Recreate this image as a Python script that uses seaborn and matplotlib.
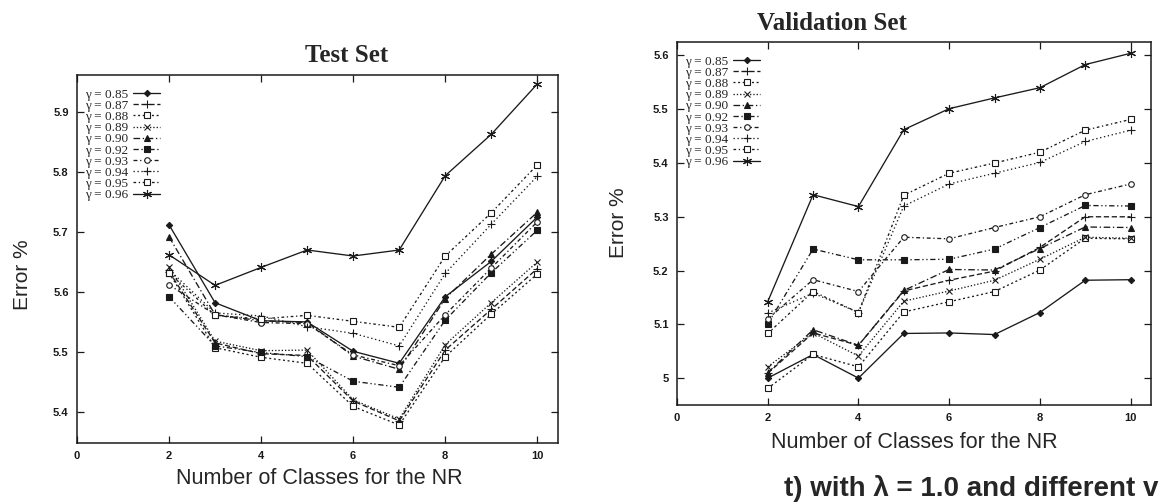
import matplotlib
matplotlib.use("Agg")
import matplotlib.pyplot as plt
from matplotlib.ticker import FuncFormatter
import pandas as pd
import seaborn as sns

# ---------------- data ----------------
classes = [2, 3, 4, 5, 6, 7, 8, 9, 10]
gammas = ["0.85", "0.87", "0.88", "0.89", "0.90", "0.92", "0.93", "0.94", "0.95", "0.96"]

test_085 = [5.712, 5.582, 5.552, 5.550, 5.501, 5.481, 5.592, 5.651, 5.725]
test_087 = [5.634, 5.515, 5.497, 5.494, 5.418, 5.385, 5.503, 5.571, 5.639]
test_088 = [5.632, 5.507, 5.491, 5.481, 5.409, 5.378, 5.492, 5.563, 5.630]
test_089 = [5.642, 5.518, 5.502, 5.503, 5.420, 5.388, 5.512, 5.582, 5.650]
test_090 = [5.692, 5.562, 5.552, 5.549, 5.493, 5.471, 5.589, 5.663, 5.733]
test_092 = [5.592, 5.510, 5.499, 5.492, 5.451, 5.441, 5.553, 5.632, 5.703]
test_093 = [5.612, 5.562, 5.549, 5.547, 5.495, 5.477, 5.562, 5.640, 5.717]
test_094 = [5.637, 5.565, 5.560, 5.542, 5.531, 5.510, 5.631, 5.713, 5.793]
test_095 = [5.632, 5.561, 5.555, 5.561, 5.551, 5.541, 5.660, 5.732, 5.812]
test_096 = [5.662, 5.611, 5.641, 5.670, 5.660, 5.670, 5.794, 5.863, 5.947]

val_085 = [5.000, 5.044, 5.000, 5.083, 5.084, 5.081, 5.122, 5.182, 5.183]
val_087 = [5.009, 5.084, 5.061, 5.162, 5.182, 5.199, 5.243, 5.300, 5.300]
val_088 = [4.981, 5.044, 5.021, 5.123, 5.142, 5.161, 5.201, 5.260, 5.259]
val_089 = [5.021, 5.084, 5.041, 5.143, 5.162, 5.182, 5.221, 5.262, 5.260]
val_090 = [5.010, 5.090, 5.061, 5.163, 5.202, 5.201, 5.241, 5.281, 5.280]
val_092 = [5.101, 5.240, 5.220, 5.220, 5.221, 5.240, 5.280, 5.321, 5.320]
val_093 = [5.110, 5.183, 5.161, 5.262, 5.259, 5.280, 5.300, 5.341, 5.361]
val_094 = [5.121, 5.158, 5.122, 5.320, 5.361, 5.381, 5.401, 5.440, 5.461]
val_095 = [5.083, 5.161, 5.122, 5.340, 5.381, 5.400, 5.420, 5.461, 5.481]
val_096 = [5.142, 5.341, 5.319, 5.462, 5.501, 5.521, 5.540, 5.583, 5.604]

x_ticks = [0, 2, 4, 6, 8, 10]
test_y_ticks = [5.4, 5.5, 5.6, 5.7, 5.8, 5.9]
val_y_ticks = [5.0, 5.1, 5.2, 5.3, 5.4, 5.5, 5.6]

test_series = [test_085, test_087, test_088, test_089, test_090,
               test_092, test_093, test_094, test_095, test_096]
val_series = [val_085, val_087, val_088, val_089, val_090,
              val_092, val_093, val_094, val_095, val_096]


def long_frame(series):
    rows = []
    for g, vals in zip(gammas, series):
        for c, v in zip(classes, vals):
            rows.append({"classes": c, "error": v, "gamma": g})
    return pd.DataFrame(rows)


df_test = long_frame(test_series)
df_val = long_frame(val_series)

# ---------------- styles ----------------
styles = {
    "0.85": dict(linestyle="-", marker="D", markersize=3.2, markerfacecolor="k"),
    "0.87": dict(linestyle=(0, (4, 2)), marker="+", markersize=5.5),
    "0.88": dict(linestyle=(0, (1.5, 2)), marker="s", markersize=4, markerfacecolor="white"),
    "0.89": dict(linestyle=(0, (1, 1.5)), marker="x", markersize=4.5),
    "0.90": dict(linestyle=(0, (5, 2, 1, 2)), marker="^", markersize=4.2, markerfacecolor="k"),
    "0.92": dict(linestyle=(0, (4, 2, 1, 2, 1, 2)), marker="s", markersize=3.8, markerfacecolor="k"),
    "0.93": dict(linestyle=(0, (3, 2, 1, 2)), marker="o", markersize=4, markerfacecolor="white"),
    "0.94": dict(linestyle=(0, (1, 2)), marker="+", markersize=5.5),
    "0.95": dict(linestyle=(0, (2, 2, 1, 2)), marker="s", markersize=4.5, markerfacecolor="white"),
    "0.96": dict(linestyle="-", marker=(6, 2, 0), markersize=6.5),
}

sns.set_theme(style="ticks")
plt.rcParams["font.family"] = ["Liberation Sans", "DejaVu Sans"]
plt.rcParams["axes.linewidth"] = 1.1

W, H = 1160, 503
fig = plt.figure(figsize=(W / 100, H / 100), dpi=100)
fig.patch.set_facecolor("white")

ax_test = fig.add_axes([77 / W, 1 - 443 / H, 481 / W, 368 / H])
ax_val = fig.add_axes([677 / W, 1 - 405 / H, 474 / W, 363 / H])


def draw(ax, df, ylim, yticks, legend_anchor):
    for g in gammas:
        sub = df[df["gamma"] == g]
        sns.lineplot(data=sub, x="classes", y="error", ax=ax, color="k",
                     linewidth=0.95, markeredgecolor="k", markeredgewidth=0.8,
                     label=f"\u03b3 = {g}", **styles[g])
    ax.set_xlim(0, 10.45)
    ax.set_ylim(*ylim)
    ax.set_xticks(x_ticks)
    ax.set_yticks(yticks)
    ax.yaxis.set_major_formatter(FuncFormatter(lambda v, p: f"{v:g}"))
    ax.tick_params(direction="in", length=5, width=0.9, top=True, right=True,
                   labelsize=8, colors="k", pad=6)
    for lbl in ax.get_xticklabels() + ax.get_yticklabels():
        lbl.set_fontweight("bold")
    for s in ax.spines.values():
        s.set_color("k")
    ax.set_facecolor("white")
    leg = ax.legend(loc="upper left", bbox_to_anchor=legend_anchor, frameon=False,
                    markerfirst=False, prop={"family": "Liberation Serif", "size": 9.5},
                    handlelength=2.0, handletextpad=0.4, labelspacing=-0.08,
                    borderaxespad=0.2)
    return leg


draw(ax_test, df_test, (5.348, 5.962), test_y_ticks, (0.0, 0.985))
draw(ax_val, df_val, (4.95, 5.625), val_y_ticks, (0.0, 0.985))

for ax, xl, yl in [(ax_test, (319 / W, 1 - 478 / H), (23 / W, 1 - 275 / H)),
                   (ax_val, (914 / W, 1 - 442 / H), (619 / W, 1 - 223 / H))]:
    ax.set_xlabel("Number of Classes for the NR", fontsize=15.5)
    ax.set_ylabel("Error %", fontsize=15)
    ax.xaxis.set_label_coords(*xl, transform=fig.transFigure)
    ax.yaxis.set_label_coords(*yl, transform=fig.transFigure)
    ax.xaxis.label.set_va("center")
    ax.yaxis.label.set_va("center")

fig.text(347 / W, 1 - 56 / H, "Test Set", ha="center", va="center",
         fontsize=18, fontweight="bold", family="Liberation Serif")
fig.text(832 / W, 1 - 24 / H, "Validation Set", ha="center", va="center",
         fontsize=18, fontweight="bold", family="Liberation Serif")

fig.text(1158 / W, 0.014, "t) with \u03bb = 1.0 and different v", ha="right",
         va="baseline", fontsize=20, fontweight="bold")

fig.savefig("out.png", dpi=100)
